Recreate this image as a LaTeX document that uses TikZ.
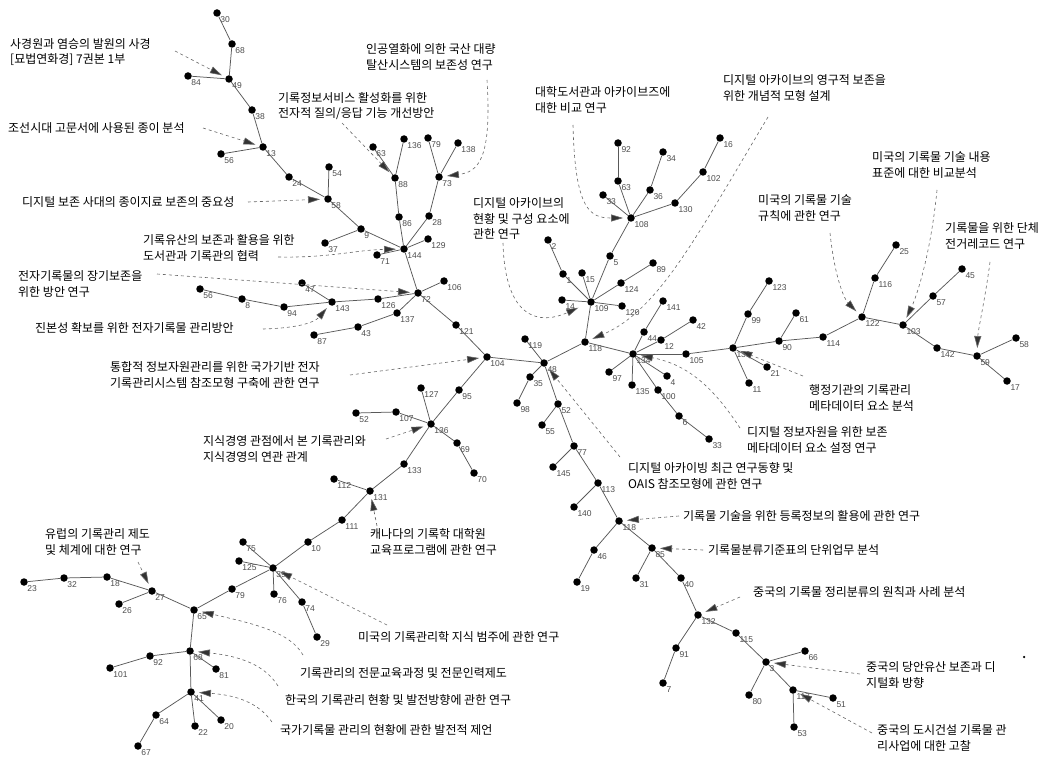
\documentclass[tikz,border=0pt]{standalone}
\usepackage{fontspec}
\newfontfamily\krfont{Noto Sans CJK KR}
\newfontfamily\numfont{Liberation Sans}
\usetikzlibrary{arrows.meta}
\newcommand\dotnode[4]{\node[dot,label={[lbl]-45:#4}] (#1) at (#2,#3) {};}
\begin{document}
\begin{tikzpicture}[x=1pt,y=-1pt,
  dot/.style={circle,fill=black,inner sep=0pt,minimum size=7.5pt},
  edge/.style={draw=black!65,line width=0.75pt},
  arr/.style={draw=black!60,dash pattern=on 3pt off 3pt,line width=0.6pt,-{Triangle[length=12pt,width=7pt,fill=black!80]},shorten >=4pt},
  txt/.style={font=\krfont\fontsize{12}{15.5}\selectfont,align=left,inner sep=0pt,anchor=west},
  lbl/.style={font=\numfont\fontsize{8.5}{9}\selectfont,text=black!70,inner sep=0.5pt}]
\useasboundingbox (0,0) rectangle (1049,759);
% ---------------- nodes ----------------
\dotnode{n30}{217}{13}{30}
\dotnode{n68}{232}{44}{68}
\dotnode{n84}{188}{76}{84}
\dotnode{n49}{229}{79}{49}
\dotnode{n38}{252}{110}{38}
\dotnode{n13}{263}{147}{13}
\dotnode{n56}{221}{154}{56}
\dotnode{n24}{289}{177}{24}
\dotnode{n54}{329}{167}{54}
\dotnode{n58}{328}{199}{58}
\dotnode{n9}{361}{229}{9}
\dotnode{n37}{325}{243}{37}
\dotnode{n63}{373}{147}{63}
\dotnode{n136}{404}{139}{136}
\dotnode{n79}{428}{138}{79}
\dotnode{n138}{458}{143}{138}
\dotnode{n88}{395}{178}{88}
\dotnode{n73}{439}{177}{73}
\dotnode{n86}{399}{217}{86}
\dotnode{n28}{429}{216}{28}
\dotnode{n129}{428}{239}{129}
\dotnode{n144}{404}{249}{144}
\dotnode{n71}{377}{255}{71}
\dotnode{n47}{302}{283}{47}
\dotnode{n143}{332}{302}{143}
\dotnode{n94}{284}{307}{94}
\dotnode{n8}{242}{299}{8}
\dotnode{n56b}{200}{289}{56}
\dotnode{n126}{378}{299}{126}
\dotnode{n72}{418}{293}{72}
\dotnode{n106}{444}{281}{106}
\dotnode{n137}{397}{313}{137}
\dotnode{n43}{358}{327}{43}
\dotnode{n87}{314}{335}{87}
\dotnode{n121}{456}{325}{121}
\dotnode{n104}{487}{357}{104}
\dotnode{n95}{459}{390}{95}
\dotnode{n127}{421}{388}{127}
\dotnode{n52}{356}{413}{52}
\dotnode{n107}{396}{412}{107}
\dotnode{n136b}{431}{424}{136}
\dotnode{n69}{457}{443}{69}
\dotnode{n70}{474}{473}{70}
\dotnode{n133}{404}{464}{133}
\dotnode{n112}{334}{479}{112}
\dotnode{n131}{370}{491}{131}
\dotnode{n111}{342}{520}{111}
\dotnode{n10}{308}{542}{10}
\dotnode{n39}{273}{568}{39}
\dotnode{n76}{274}{594}{76}
\dotnode{n74}{302}{602}{74}
\dotnode{n29}{317}{637}{29}
\dotnode{n75}{243}{542}{75}
\dotnode{n125}{239}{561}{125}
\dotnode{n79b}{232}{589}{79}
\dotnode{n23}{24}{582}{23}
\dotnode{n32}{64}{578}{32}
\dotnode{n18}{107}{577}{18}
\dotnode{n27}{152}{591}{27}
\dotnode{n26}{119}{604}{26}
\dotnode{n65}{194}{610}{65}
\dotnode{n68b}{190}{651}{68}
\dotnode{n92b}{150}{656}{92}
\dotnode{n101}{110}{668}{101}
\dotnode{n81}{216}{669}{81}
\dotnode{n41}{191}{692}{41}
\dotnode{n64}{156}{715}{64}
\dotnode{n22}{195}{726}{22}
\dotnode{n20}{221}{720}{20}
\dotnode{n67}{138}{746}{67}
\dotnode{n92}{618}{143}{92}
\dotnode{n34}{663}{152}{34}
\dotnode{n16}{720}{138}{16}
\dotnode{n102}{703}{172}{102}
\dotnode{n63b}{618}{181}{63}
\dotnode{n36}{650}{190}{36}
\dotnode{n33}{603}{195}{33}
\dotnode{n130}{675}{203}{130}
\dotnode{n108}{631}{218}{108}
\dotnode{n2}{548}{240}{2}
\dotnode{n5}{610}{256}{5}
\dotnode{n89}{653}{263}{89}
\dotnode{n1}{563}{274}{1}
\dotnode{n15}{582}{273}{15}
\dotnode{n124}{621}{283}{124}
\dotnode{n14}{562}{300}{14}
\dotnode{n109}{591}{302}{109}
\dotnode{n120}{622}{306}{120}
\dotnode{n141}{663}{301}{141}
\dotnode{n42}{693}{320}{42}
\dotnode{n44}{644}{332}{44}
\dotnode{n12}{661}{340}{12}
\dotnode{n118}{585}{342}{118}
\dotnode{n119}{525}{339}{119}
\dotnode{n48}{544}{363}{48}
\dotnode{n35}{530}{377}{35}
\dotnode{n98}{517}{403}{98}
\dotnode{n52b}{558}{404}{52}
\dotnode{n55}{542}{425}{55}
\dotnode{n77}{574}{446}{77}
\dotnode{n145}{553}{467}{145}
\dotnode{n113}{598}{483}{113}
\dotnode{n134}{633}{354}{134}
\dotnode{n97}{609}{372}{97}
\dotnode{n135}{632}{385}{135}
\dotnode{n4}{667}{376}{4}
\dotnode{n100}{658}{390}{100}
\dotnode{n6}{679}{416}{6}
\dotnode{n33b}{709}{439}{33}
\dotnode{n105}{686}{354}{105}
\dotnode{n139}{733}{348}{139}
\dotnode{n99}{748}{314}{99}
\dotnode{n123}{769}{281}{123}
\dotnode{n21}{767}{367}{21}
\dotnode{n11}{749}{383}{11}
\dotnode{n61}{796}{313}{61}
\dotnode{n90}{779}{341}{90}
\dotnode{n114}{823}{337}{114}
\dotnode{n122}{862}{317}{122}
\dotnode{n116}{875}{278}{116}
\dotnode{n25}{896}{245}{25}
\dotnode{n103}{903}{325}{103}
\dotnode{n57}{933}{296}{57}
\dotnode{n45}{962}{269}{45}
\dotnode{n142}{937}{348}{142}
\dotnode{n59}{977}{356}{59}
\dotnode{n58b}{1016}{338}{58}
\dotnode{n17}{1007}{381}{17}
\dotnode{n140}{574}{507}{140}
\dotnode{n118b}{619}{521}{118}
\dotnode{n46}{594}{550}{46}
\dotnode{n19}{577}{582}{19}
\dotnode{n85}{652}{548}{85}
\dotnode{n31}{636}{578}{31}
\dotnode{n40}{681}{578}{40}
\dotnode{n132}{698}{615}{132}
\dotnode{n115}{736}{633}{115}
\dotnode{n91}{676}{648}{91}
\dotnode{n7}{663}{683}{7}
\dotnode{n3}{766}{662}{3}
\dotnode{n80}{749}{695}{80}
\dotnode{n66}{805}{651}{66}
\dotnode{n117}{793}{690}{117}
\dotnode{n51}{833}{698}{51}
\dotnode{n53}{794}{727}{53}
\node[circle,fill=black,inner sep=0pt,minimum size=2.5pt] (stray) at (1024,657) {};
% ---------------- edges ----------------
\foreach \a/\b in {n30/n68,n68/n49,n84/n49,n49/n38,n38/n13,n13/n56,n13/n24,n24/n58,n58/n54,n58/n9,n9/n37,n9/n144,
 n144/n86,n86/n88,n88/n63,n88/n136,n144/n28,n28/n73,n73/n79,n73/n138,n144/n129,n144/n71,n144/n72,
 n72/n106,n72/n126,n126/n143,n143/n47,n143/n94,n94/n8,n8/n56b,n72/n137,n137/n43,n43/n87,n72/n121,n121/n104,
 n104/n95,n95/n136b,n136b/n127,n136b/n107,n107/n52,n136b/n69,n69/n70,n136b/n133,n133/n131,n131/n112,n131/n111,
 n111/n10,n10/n39,n39/n76,n39/n74,n74/n29,n39/n75,n39/n125,n39/n79b,n79b/n65,n65/n27,n27/n18,n18/n32,n32/n23,
 n27/n26,n65/n68b,n68b/n92b,n92b/n101,n68b/n81,n68b/n41,n41/n64,n64/n67,n41/n22,n41/n20,
 n104/n48,n48/n119,n48/n35,n35/n98,n48/n52b,n52b/n55,n52b/n77,n77/n145,n77/n113,n113/n140,n113/n118b,
 n118b/n46,n46/n19,n118b/n85,n85/n31,n85/n40,n40/n132,n132/n91,n91/n7,n132/n115,n115/n3,n3/n80,n3/n66,
 n3/n117,n117/n51,n117/n53,
 n48/n118,n118/n109,n109/n1,n1/n2,n109/n15,n109/n5,n5/n108,n108/n63b,n63b/n92,n108/n33,n108/n36,n36/n34,
 n108/n130,n130/n102,n102/n16,n109/n124,n124/n89,n109/n120,n109/n14,
 n118/n134,n134/n97,n134/n135,n134/n100,n100/n6,n6/n33b,n134/n4,n134/n44,n44/n141,n134/n12,n12/n42,
 n134/n105,n105/n139,n139/n99,n99/n123,n139/n21,n139/n11,n139/n90,n90/n61,n90/n114,n114/n122,n122/n116,
 n116/n25,n122/n103,n103/n57,n57/n45,n103/n142,n142/n59,n59/n58b,n59/n17}
 \draw[edge] (\a) -- (\b);
% ---------------- texts ----------------
\node[txt] (t1) at (10,52) {사경원과 염승의 발원의 사경\\{[}묘법연화경{]} 7권본 1부};
\node[txt] (t2) at (8,128) {조선시대 고문서에 사용된 종이 분석};
\node[txt] (t3) at (22,202) {디지털 보존 사대의 종이지료 보존의 중요성};
\node[txt] (t4) at (143,248) {기록유산의 보존과 활용을 위한\\도서관과 기록관의 협력};
\node[txt] (t5) at (18,284) {전자기록물의 장기보존을\\위한 방안 연구};
\node[txt] (t6) at (35,328) {진본성 확보를 위한 전자기록물 관리방안};
\node[txt] (t7) at (110,375) {통합적 정보자원관리를 위한 국가기반 전자\\기록관리시스템 참조모형 구축에 관한 연구};
\node[txt] (t8) at (203,449) {지식경영 관점에서 본 기록관리와\\지식경영의 연관 관계};
\node[txt] (t9) at (366,57) {인공열화에 의한 국산 대량\\탈산시스템의 보존성 연구};
\node[txt] (t10) at (278,106) {기록정보서비스 활성화를 위한\\전자적 질의/응답 기능 개선방안};
\node[txt] (t11) at (535,100) {대학도서관과 아카이브즈에\\대한 비교 연구};
\node[txt] (t12) at (723,88) {디지털 아카이브의 영구적 보존을\\위한 개념적 모형 설계};
\node[txt] (t13) at (473,219) {디지털 아카이브의\\현황 및 구성 요소에\\관한 연구};
\node[txt] (t14) at (758,208) {미국의 기록물 기술\\규칙에 관한 연구};
\node[txt] (t15) at (872,165) {미국의 기록물 기술 내용\\표준에 대한 비교분석};
\node[txt] (t16) at (945,236) {기록물을 위한 단체\\전거레코드 연구};
\node[txt] (t17) at (809,398) {행정기관의 기록관리\\메타데이터 요소 분석};
\node[txt] (t18) at (747,440) {디지털 정보자원을 위한 보존\\메타데이터 요소 설정 연구};
\node[txt] (t19) at (628,476) {디지털 아카이빙 최근 연구동향 및\\OAIS 참조모형에 관한 연구};
\node[txt] (t20) at (45,542) {유럽의 기록관리 제도\\및 체계에 대한 연구};
\node[txt] (t21) at (370,542) {캐나다의 기록학 대학원\\교육프로그램에 관한 연구};
\node[txt] (t22) at (358,637) {미국의 기록관리학 지식 범주에 관한 연구};
\node[txt] (t23) at (300,673) {기록관리의 전문교육과정 및 전문인력제도};
\node[txt] (t24) at (285,700) {한국의 기록관리 현황 및 발전방향에 관한 연구};
\node[txt] (t25) at (280,730) {국가기록물 관리의 현황에 관한 발전적 제언};
\node[txt] (t26) at (683,516) {기록물 기술을 위한 등록정보의 활용에 관한 연구};
\node[txt] (t27) at (708,550) {기록물분류기준표의 단위업무 분석};
\node[txt] (t28) at (753,592) {중국의 기록물 정리분류의 원칙과 사례 분석};
\node[txt] (t29) at (866,675) {중국의 당안유산 보존과 디\\지털화 방향};
\node[txt] (t30) at (877,738) {중국의 도시건설 기록물 관\\리사업에 대한 고찰};
% ---------------- arrow starts ----------------
\coordinate (s1) at (175,51);
\coordinate (s2) at (203,128);
\coordinate (s3) at (248,202);
\coordinate (s4) at (278,257);
\coordinate (s5) at (157,274);
\coordinate (s6) at (263,329);
\coordinate (s7) at (350,375);
\coordinate (s8) at (386,439);
\coordinate (s9) at (487,80);
\coordinate (s10) at (342,123);
\coordinate (s11) at (573,125);
\coordinate (s12) at (768,117);
\coordinate (s13) at (503,243);
\coordinate (s14) at (830,233);
\coordinate (s15) at (937,190);
\coordinate (s16) at (990,262);
\coordinate (s17) at (803,376);
\coordinate (s18) at (740,428);
\coordinate (s19) at (620,457);
\coordinate (s20) at (138,562);
\coordinate (s21) at (377,526);
\coordinate (s22) at (387,625);
\coordinate (s23) at (303,655);
\coordinate (s24) at (278,686);
\coordinate (s25) at (272,722);
\coordinate (s26) at (679,516);
\coordinate (s27) at (703,550);
\coordinate (s28) at (740,597);
\coordinate (s29) at (860,674);
\coordinate (s30) at (872,733);
% ---------------- arrows ----------------
\draw[arr] (s1) -- (n49);
\draw[arr] (s2) -- (n13);
\draw[arr] (s3) -- (n58);
\draw[arr] (s4) .. controls (330,258) and (355,250) .. (n144);
\draw[arr] (s5) -- (n72);
\draw[arr] (s6) .. controls (300,328) and (315,322) .. (n143);
\draw[arr] (s7) -- (n104);
\draw[arr] (s8) -- (n136b);
\draw[arr] (s9) .. controls (492,160) and (478,172) .. (n73);
\draw[arr] (s10) -- (n88);
\draw[arr] (s11) .. controls (575,210) and (590,218) .. (n108);
\draw[arr] (s12) .. controls (700,230) and (660,310) .. (n118);
\draw[arr,shorten >=10pt] (s13) .. controls (505,320) and (540,325) .. (n109);
\draw[arr] (s14) .. controls (835,280) and (845,300) .. (n122);
\draw[arr] (s15) .. controls (930,260) and (915,300) .. (n103);
\draw[arr] (s16) .. controls (985,300) and (978,330) .. (n59);
\draw[arr] (s17) -- (n139);
\draw[arr] (s18) .. controls (715,390) and (690,365) .. (n134);
\draw[arr] (s19) -- (n48);
\draw[arr] (s20) -- (n27);
\draw[arr] (s21) -- (n131);
\draw[arr] (s22) -- (n39);
\draw[arr] (s23) .. controls (290,632) and (255,624) .. (n65);
\draw[arr] (s24) .. controls (265,665) and (240,656) .. (n68b);
\draw[arr] (s25) .. controls (258,702) and (235,695) .. (n41);
\draw[arr] (s26) -- (n118b);
\draw[arr] (s27) -- (n85);
\draw[arr] (s28) -- (n132);
\draw[arr] (s29) -- (n3);
\draw[arr] (s30) -- (n117);
\end{tikzpicture}
\end{document}
